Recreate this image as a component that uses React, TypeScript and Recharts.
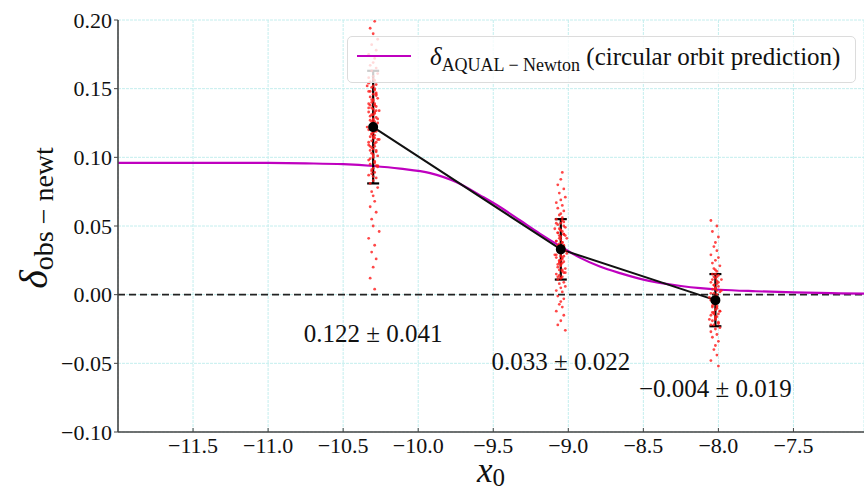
import {
  CartesianGrid,
  ComposedChart,
  ErrorBar,
  Label,
  Legend,
  Line,
  ReferenceLine,
  Scatter,
  XAxis,
  YAxis,
} from "recharts";

const W = 864;
const H = 494;
const FONT = '"Liberation Serif", "DejaVu Serif", serif';
const MAGENTA = "#bf00bf";
const SPINE = "#444";

const xTicks = [-11.5, -11, -10.5, -10, -9.5, -9, -8.5, -8, -7.5];
const yTicks = [-0.1, -0.05, 0, 0.05, 0.1, 0.15, 0.2];

// binned observations (mean ± error) and where their text sits
const obsX = [-10.3, -9.05, -8.02];
const obsMean = [0.122, 0.033, -0.004];
const obsErr = [0.041, 0.022, 0.019];
const obsLabelY = [-0.028, -0.049, -0.068];

// AQUAL - Newton prediction
const curveX = [
  -12.0, -11.5, -11.0, -10.75, -10.5, -10.3, -10.12, -9.92, -9.74, -9.59, -9.45, -9.32, -9.19,
  -9.05, -8.92, -8.79, -8.65, -8.52, -8.39, -8.25, -8.12, -7.99, -7.75, -7.5, -7.25, -7.03,
];
const curveY = [
  0.096, 0.096, 0.0959, 0.0956, 0.095, 0.0937, 0.0918, 0.0885, 0.0817, 0.0725, 0.0635, 0.054,
  0.0445, 0.035, 0.0268, 0.0205, 0.0155, 0.0115, 0.0086, 0.0063, 0.0047, 0.0036, 0.0025, 0.0017,
  0.0011, 0.0007,
];

// red sample clouds (x jitter in hundredths of a unit)
const sampleJitter = [
  1, -2, 0, 3, -1, 2, -3, 1, 0, -2, 2, -1, 3, 0, -3, 1, -2, 2, 0, -1, 1, -3, 2, 0, -2, 3, -1,
  0, 1, -2, 2, -1, 0, 4, -3, 1, -1, 2, 0, -2, 1, 3, -1, 0, -4, 2, -3, 1, 0, -1,
];
const samplesA = [
  0.199, 0.194, 0.19, 0.186, 0.182, 0.178, 0.175, 0.172, 0.169, 0.167, 0.165, 0.163, 0.161,
  0.159, 0.158, 0.156, 0.155, 0.153, 0.152, 0.151, 0.149, 0.148, 0.147, 0.146, 0.144, 0.143,
  0.142, 0.141, 0.139, 0.138, 0.137, 0.136, 0.135, 0.134, 0.133, 0.132, 0.131, 0.129, 0.128,
  0.127, 0.126, 0.125, 0.124, 0.123, 0.122, 0.121, 0.12, 0.119, 0.118, 0.117, 0.116, 0.115,
  0.114, 0.113, 0.112, 0.111, 0.109, 0.108, 0.106, 0.105, 0.104, 0.103, 0.101, 0.1, 0.098,
  0.097, 0.095, 0.094, 0.092, 0.091, 0.089, 0.087, 0.085, 0.083, 0.081, 0.078, 0.075, 0.072,
  0.068, 0.064, 0.06, 0.055, 0.05, 0.046, 0.041, 0.036, 0.031, 0.026, 0.02, 0.012, 0.004,
];
const samplesB = [
  0.089, 0.084, 0.08, 0.077, 0.074, 0.071, 0.069, 0.067, 0.065, 0.063, 0.061, 0.059, 0.058,
  0.056, 0.055, 0.053, 0.052, 0.051, 0.049, 0.048, 0.047, 0.046, 0.045, 0.044, 0.043, 0.042,
  0.041, 0.039, 0.038, 0.037, 0.036, 0.035, 0.034, 0.033, 0.032, 0.031, 0.03, 0.029, 0.028,
  0.027, 0.026, 0.025, 0.024, 0.023, 0.022, 0.021, 0.019, 0.018, 0.016, 0.015, 0.013, 0.012,
  0.011, 0.009, 0.008, 0.006, 0.005, 0.003, 0.002, -0.001, -0.003, -0.005, -0.007, -0.009,
  -0.012, -0.015, -0.019, -0.022, -0.026,
];
const samplesC = [
  0.054, 0.05, 0.046, 0.042, 0.038, 0.035, 0.032, 0.029, 0.027, 0.025, 0.023, 0.021, 0.019,
  0.018, 0.017, 0.015, 0.014, 0.013, 0.012, 0.011, 0.009, 0.008, 0.007, 0.006, 0.005, 0.004,
  0.003, 0.002, 0.001, -0.001, -0.002, -0.003, -0.004, -0.005, -0.006, -0.007, -0.008, -0.009,
  -0.011, -0.012, -0.013, -0.014, -0.015, -0.016, -0.018, -0.019, -0.021, -0.022, -0.024,
  -0.025, -0.027, -0.029, -0.031, -0.034, -0.037, -0.04, -0.044, -0.048, -0.052,
];
// extra samples in the dense core of each cloud
const coreA = [
  0.157, 0.154, 0.15, 0.148, 0.145, 0.142, 0.14, 0.138, 0.136, 0.134, 0.131, 0.13, 0.128, 0.126,
  0.124, 0.123, 0.121, 0.119, 0.117, 0.115, 0.113, 0.111, 0.11, 0.107, 0.105, 0.102, 0.099,
  0.096, 0.093, 0.09, 0.086, 0.152, 0.146, 0.139, 0.133, 0.127, 0.12, 0.114, 0.108, 0.101,
  0.094, 0.088,
];
const coreB = [
  0.054, 0.052, 0.05, 0.047, 0.045, 0.043, 0.041, 0.04, 0.038, 0.036, 0.035, 0.033, 0.032, 0.03,
  0.029, 0.027, 0.025, 0.024, 0.022, 0.02, 0.018, 0.016, 0.014, 0.012, 0.048, 0.044, 0.039,
  0.034, 0.028, 0.023, 0.017, 0.013,
];
const coreC = [
  0.015, 0.013, 0.011, 0.009, 0.007, 0.005, 0.003, 0.001, 0.0, -0.002, -0.004, -0.006, -0.008,
  -0.01, -0.012, -0.014, -0.016, -0.018, -0.02, -0.022, 0.01, 0.004, -0.003, -0.009, -0.013,
  -0.017,
];

const minus = (s: string) => s.replace("-", "\u2212");
const fmtX = (v: number) => minus(v.toFixed(1));
const fmtY = (v: number) => minus(v.toFixed(2));

const obsData = obsX.map((x, i) => ({ x, y: obsMean[i], err: obsErr[i] }));
const labelData = obsX.map((x, i) => ({
  x,
  y: obsLabelY[i],
  text: `${minus(obsMean[i].toFixed(3))} ± ${obsErr[i].toFixed(3)}`,
}));
const curveData = curveX.map((x, i) => ({ x, y: curveY[i] }));
const cloud = (sets: number[][], shift: number) =>
  sets.flatMap((ys, k) =>
    ys.map((y, i) => ({
      x: obsX[k] + sampleJitter[(i + 7 * k + shift) % sampleJitter.length] * 0.01,
      y,
    }))
  );
const sampleData = [
  ...cloud([samplesA, samplesB, samplesC], 0),
  ...cloud([coreA, coreB, coreC], 13),
];

function LegendBox() {
  return (
    <div
      style={{
        boxSizing: "border-box",
        width: 509,
        height: 47,
        border: "1px solid #dcdcdc",
        borderRadius: 5,
        background: "rgba(255,255,255,0.8)",
        display: "flex",
        alignItems: "center",
        fontFamily: FONT,
        fontSize: 25,
        color: "#111",
        whiteSpace: "nowrap",
      }}
    >
      <svg width={82} height={45} style={{ flex: "none" }}>
        <line x1={9} x2={63} y1={19} y2={19} stroke={MAGENTA} strokeWidth={2} />
      </svg>
      <span>
        <i>δ</i>
        <sub style={{ fontSize: 18 }}>AQUAL − Newton</sub> (circular orbit prediction)
      </span>
    </div>
  );
}

const XTitle = () => (
  <text x={491} y={482} textAnchor="middle" fontFamily={FONT} fill="#111">
    <tspan fontStyle="italic" fontSize={35}>x</tspan>
    <tspan fontSize={25} dy={4}>0</tspan>
  </text>
);

const YTitle = () => (
  <text transform="translate(47,218) rotate(-90)" textAnchor="middle" fontFamily={FONT} fill="#111">
    <tspan fontStyle="italic" fontSize={40}>δ</tspan>
    <tspan fontSize={28} dy={6}>obs − newt</tspan>
  </text>
);

export default function App() {
  return (
    <div style={{ position: "absolute", left: 0, top: 0, width: W, height: H, overflow: "hidden", background: "#fff" }}>
      <ComposedChart width={W} height={H} margin={{ top: 20, right: 0, bottom: 0, left: 0 }}>
        <CartesianGrid stroke="#c4eeee" strokeDasharray="3 1" />
        <XAxis
          type="number"
          dataKey="x"
          domain={[-12, -7.03]}
          allowDataOverflow
          ticks={xTicks}
          tickFormatter={fmtX}
          height={62}
          tickSize={-4}
          tickMargin={9}
          tick={{ fontFamily: FONT, fontSize: 22, fill: "#111" }}
          axisLine={{ stroke: SPINE, strokeWidth: 1.6 }}
          tickLine={{ stroke: SPINE }}
        >
          <Label content={XTitle} />
        </XAxis>
        <XAxis
          xAxisId="top"
          orientation="top"
          type="number"
          dataKey="x"
          domain={[-12, -7.03]}
          allowDataOverflow
          ticks={xTicks}
          height={0}
          tickSize={-4}
          tick={false}
          axisLine={{ stroke: SPINE, strokeWidth: 1.6 }}
          tickLine={{ stroke: SPINE }}
        />
        <YAxis
          type="number"
          domain={[-0.1, 0.2]}
          allowDataOverflow
          ticks={yTicks}
          tickFormatter={fmtY}
          width={118}
          tickSize={4}
          tickMargin={2}
          tick={{ fontFamily: FONT, fontSize: 22, fill: "#111" }}
          axisLine={{ stroke: SPINE, strokeWidth: 1.6 }}
          tickLine={{ stroke: SPINE }}
        >
          <Label content={YTitle} />
        </YAxis>
        <ReferenceLine y={0} stroke="#222" strokeWidth={1.8} strokeDasharray="7 4" />
        <Scatter
          data={sampleData}
          dataKey="y"
          isAnimationActive={false}
          shape={(p: any) => <circle cx={p.cx} cy={p.cy} r={1.4} fill="#ff1a1a" fillOpacity={0.8} />}
        />
        <Line
          data={curveData}
          dataKey="y"
          type="monotone"
          stroke={MAGENTA}
          strokeWidth={2.2}
          dot={false}
          isAnimationActive={false}
        />
        <Line
          data={obsData}
          dataKey="y"
          type="linear"
          stroke="#111"
          strokeWidth={2}
          dot={{ r: 4, fill: "#000", stroke: "#000" }}
          isAnimationActive={false}
        >
          <ErrorBar dataKey="err" direction="y" width={6} strokeWidth={2.2} stroke="#000" />
        </Line>
        <Scatter
          data={labelData}
          dataKey="y"
          isAnimationActive={false}
          shape={(p: any) => (
            <text x={p.cx} y={p.cy} textAnchor="middle" dominantBaseline="central" fontFamily={FONT} fontSize={25} fill="#111">
              {p.payload.text}
            </text>
          )}
        />
        <Legend
          layout="horizontal"
          verticalAlign="middle"
          align="center"
          wrapperStyle={{ left: 347, top: 36, width: 509, height: 47 }}
          content={() => <LegendBox />}
        />
      </ComposedChart>
    </div>
  );
}
